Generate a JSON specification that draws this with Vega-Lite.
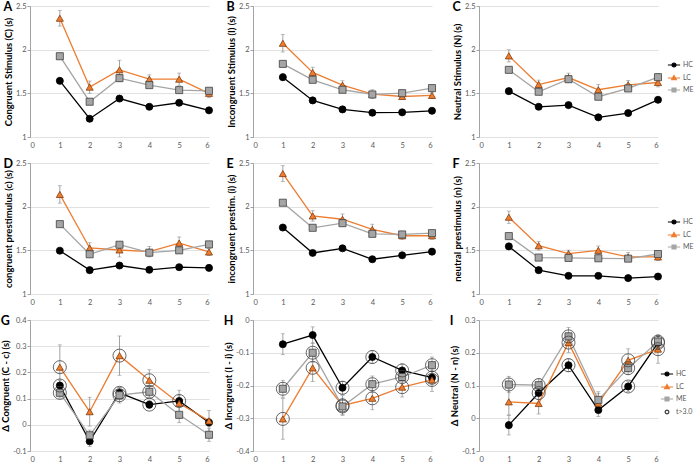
{
  "$schema": "https://vega.github.io/schema/vega-lite/v6.json",
  "background": "white",
  "padding": {"left": 0, "top": 0, "right": 0, "bottom": 0},
  "columns": 3,
  "spacing": {"row": 8, "column": 8},
  "resolve": {"scale": {"x": "independent", "y": "independent", "color": "independent"}, "legend": {"color": "independent"}},
  "config": {
    "view": {"stroke": null},
    "font": "Lato",
    "axis": {"labelFont": "Lato", "labelFontSize": 7.5, "labelColor": "#595959", "titleFont": "Lato", "titleFontSize": 9.5, "titleFontWeight": "bold", "titleColor": "#000000", "domainColor": "#8c8c8c", "tickColor": "#8c8c8c", "gridColor": "#d9d9d9", "gridWidth": 0.8, "domainWidth": 0.8, "tickWidth": 0.8},
    "axisX": {"domain": false, "ticks": false, "grid": false, "labelPadding": 4},
    "axisY": {"tickSize": 3, "labelPadding": 1, "titlePadding": 2},
    "title": {"anchor": "start", "frame": "bounds", "fontSize": 12.5, "fontWeight": "bold", "font": "Lato", "color": "#000000", "offset": -11}
  },
  "datasets": {
    "one": [{"k": 0}],
    "ticks": [{"x": 1}, {"x": 2}, {"x": 3}, {"x": 4}, {"x": 5}, {"x": 6}],
    "d": [
      {"p": "A", "g": "HC", "x": 1, "v": 1.643, "e": 0.02},
      {"p": "A", "g": "HC", "x": 2, "v": 1.209, "e": 0.02},
      {"p": "A", "g": "HC", "x": 3, "v": 1.44, "e": 0.025},
      {"p": "A", "g": "HC", "x": 4, "v": 1.346, "e": 0.02},
      {"p": "A", "g": "HC", "x": 5, "v": 1.392, "e": 0.025},
      {"p": "A", "g": "HC", "x": 6, "v": 1.305, "e": 0.02},
      {"p": "A", "g": "LC", "x": 1, "v": 2.36, "e": 0.09},
      {"p": "A", "g": "LC", "x": 2, "v": 1.571, "e": 0.07},
      {"p": "A", "g": "LC", "x": 3, "v": 1.769, "e": 0.11},
      {"p": "A", "g": "LC", "x": 4, "v": 1.662, "e": 0.05},
      {"p": "A", "g": "LC", "x": 5, "v": 1.662, "e": 0.07},
      {"p": "A", "g": "LC", "x": 6, "v": 1.5, "e": 0.05},
      {"p": "A", "g": "ME", "x": 1, "v": 1.925, "e": 0.03},
      {"p": "A", "g": "ME", "x": 2, "v": 1.404, "e": 0.03},
      {"p": "A", "g": "ME", "x": 3, "v": 1.674, "e": 0.04},
      {"p": "A", "g": "ME", "x": 4, "v": 1.594, "e": 0.03},
      {"p": "A", "g": "ME", "x": 5, "v": 1.537, "e": 0.03},
      {"p": "A", "g": "ME", "x": 6, "v": 1.529, "e": 0.03},
      {"p": "B", "g": "HC", "x": 1, "v": 1.685, "e": 0.04},
      {"p": "B", "g": "HC", "x": 2, "v": 1.419, "e": 0.02},
      {"p": "B", "g": "HC", "x": 3, "v": 1.316, "e": 0.015},
      {"p": "B", "g": "HC", "x": 4, "v": 1.278, "e": 0.015},
      {"p": "B", "g": "HC", "x": 5, "v": 1.282, "e": 0.015},
      {"p": "B", "g": "HC", "x": 6, "v": 1.3, "e": 0.015},
      {"p": "B", "g": "LC", "x": 1, "v": 2.073, "e": 0.1},
      {"p": "B", "g": "LC", "x": 2, "v": 1.739, "e": 0.06},
      {"p": "B", "g": "LC", "x": 3, "v": 1.594, "e": 0.05},
      {"p": "B", "g": "LC", "x": 4, "v": 1.491, "e": 0.05},
      {"p": "B", "g": "LC", "x": 5, "v": 1.464, "e": 0.03},
      {"p": "B", "g": "LC", "x": 6, "v": 1.476, "e": 0.03},
      {"p": "B", "g": "ME", "x": 1, "v": 1.837, "e": 0.03},
      {"p": "B", "g": "ME", "x": 2, "v": 1.655, "e": 0.03},
      {"p": "B", "g": "ME", "x": 3, "v": 1.541, "e": 0.03},
      {"p": "B", "g": "ME", "x": 4, "v": 1.487, "e": 0.03},
      {"p": "B", "g": "ME", "x": 5, "v": 1.502, "e": 0.03},
      {"p": "B", "g": "ME", "x": 6, "v": 1.56, "e": 0.03},
      {"p": "C", "g": "HC", "x": 1, "v": 1.525, "e": 0.025},
      {"p": "C", "g": "HC", "x": 2, "v": 1.346, "e": 0.02},
      {"p": "C", "g": "HC", "x": 3, "v": 1.365, "e": 0.02},
      {"p": "C", "g": "HC", "x": 4, "v": 1.225, "e": 0.02},
      {"p": "C", "g": "HC", "x": 5, "v": 1.274, "e": 0.02},
      {"p": "C", "g": "HC", "x": 6, "v": 1.426, "e": 0.025},
      {"p": "C", "g": "LC", "x": 1, "v": 1.929, "e": 0.07},
      {"p": "C", "g": "LC", "x": 2, "v": 1.601, "e": 0.05},
      {"p": "C", "g": "LC", "x": 3, "v": 1.681, "e": 0.05},
      {"p": "C", "g": "LC", "x": 4, "v": 1.541, "e": 0.06},
      {"p": "C", "g": "LC", "x": 5, "v": 1.598, "e": 0.05},
      {"p": "C", "g": "LC", "x": 6, "v": 1.624, "e": 0.05},
      {"p": "C", "g": "ME", "x": 1, "v": 1.769, "e": 0.03},
      {"p": "C", "g": "ME", "x": 2, "v": 1.518, "e": 0.03},
      {"p": "C", "g": "ME", "x": 3, "v": 1.662, "e": 0.04},
      {"p": "C", "g": "ME", "x": 4, "v": 1.461, "e": 0.03},
      {"p": "C", "g": "ME", "x": 5, "v": 1.556, "e": 0.03},
      {"p": "C", "g": "ME", "x": 6, "v": 1.685, "e": 0.04},
      {"p": "D", "g": "HC", "x": 1, "v": 1.496, "e": 0.02},
      {"p": "D", "g": "HC", "x": 2, "v": 1.273, "e": 0.02},
      {"p": "D", "g": "HC", "x": 3, "v": 1.326, "e": 0.02},
      {"p": "D", "g": "HC", "x": 4, "v": 1.277, "e": 0.02},
      {"p": "D", "g": "HC", "x": 5, "v": 1.307, "e": 0.02},
      {"p": "D", "g": "HC", "x": 6, "v": 1.299, "e": 0.02},
      {"p": "D", "g": "LC", "x": 1, "v": 2.14, "e": 0.1},
      {"p": "D", "g": "LC", "x": 2, "v": 1.527, "e": 0.06},
      {"p": "D", "g": "LC", "x": 3, "v": 1.504, "e": 0.08},
      {"p": "D", "g": "LC", "x": 4, "v": 1.485, "e": 0.06},
      {"p": "D", "g": "LC", "x": 5, "v": 1.583, "e": 0.07},
      {"p": "D", "g": "LC", "x": 6, "v": 1.481, "e": 0.04},
      {"p": "D", "g": "ME", "x": 1, "v": 1.8, "e": 0.03},
      {"p": "D", "g": "ME", "x": 2, "v": 1.455, "e": 0.03},
      {"p": "D", "g": "ME", "x": 3, "v": 1.564, "e": 0.03},
      {"p": "D", "g": "ME", "x": 4, "v": 1.473, "e": 0.03},
      {"p": "D", "g": "ME", "x": 5, "v": 1.5, "e": 0.03},
      {"p": "D", "g": "ME", "x": 6, "v": 1.568, "e": 0.03},
      {"p": "E", "g": "HC", "x": 1, "v": 1.761, "e": 0.03},
      {"p": "E", "g": "HC", "x": 2, "v": 1.47, "e": 0.02},
      {"p": "E", "g": "HC", "x": 3, "v": 1.523, "e": 0.02},
      {"p": "E", "g": "HC", "x": 4, "v": 1.398, "e": 0.02},
      {"p": "E", "g": "HC", "x": 5, "v": 1.443, "e": 0.02},
      {"p": "E", "g": "HC", "x": 6, "v": 1.485, "e": 0.02},
      {"p": "E", "g": "LC", "x": 1, "v": 2.379, "e": 0.09},
      {"p": "E", "g": "LC", "x": 2, "v": 1.894, "e": 0.06},
      {"p": "E", "g": "LC", "x": 3, "v": 1.856, "e": 0.06},
      {"p": "E", "g": "LC", "x": 4, "v": 1.739, "e": 0.06},
      {"p": "E", "g": "LC", "x": 5, "v": 1.667, "e": 0.04},
      {"p": "E", "g": "LC", "x": 6, "v": 1.667, "e": 0.04},
      {"p": "E", "g": "ME", "x": 1, "v": 2.045, "e": 0.03},
      {"p": "E", "g": "ME", "x": 2, "v": 1.758, "e": 0.03},
      {"p": "E", "g": "ME", "x": 3, "v": 1.811, "e": 0.03},
      {"p": "E", "g": "ME", "x": 4, "v": 1.689, "e": 0.03},
      {"p": "E", "g": "ME", "x": 5, "v": 1.682, "e": 0.03},
      {"p": "E", "g": "ME", "x": 6, "v": 1.697, "e": 0.03},
      {"p": "F", "g": "HC", "x": 1, "v": 1.545, "e": 0.03},
      {"p": "F", "g": "HC", "x": 2, "v": 1.273, "e": 0.02},
      {"p": "F", "g": "HC", "x": 3, "v": 1.208, "e": 0.015},
      {"p": "F", "g": "HC", "x": 4, "v": 1.208, "e": 0.015},
      {"p": "F", "g": "HC", "x": 5, "v": 1.182, "e": 0.015},
      {"p": "F", "g": "HC", "x": 6, "v": 1.2, "e": 0.015},
      {"p": "F", "g": "LC", "x": 1, "v": 1.879, "e": 0.07},
      {"p": "F", "g": "LC", "x": 2, "v": 1.553, "e": 0.05},
      {"p": "F", "g": "LC", "x": 3, "v": 1.462, "e": 0.04},
      {"p": "F", "g": "LC", "x": 4, "v": 1.5, "e": 0.05},
      {"p": "F", "g": "LC", "x": 5, "v": 1.424, "e": 0.05},
      {"p": "F", "g": "LC", "x": 6, "v": 1.424, "e": 0.04},
      {"p": "F", "g": "ME", "x": 1, "v": 1.663, "e": 0.03},
      {"p": "F", "g": "ME", "x": 2, "v": 1.417, "e": 0.03},
      {"p": "F", "g": "ME", "x": 3, "v": 1.413, "e": 0.03},
      {"p": "F", "g": "ME", "x": 4, "v": 1.409, "e": 0.03},
      {"p": "F", "g": "ME", "x": 5, "v": 1.405, "e": 0.03},
      {"p": "F", "g": "ME", "x": 6, "v": 1.458, "e": 0.03},
      {"p": "G", "g": "HC", "x": 1, "v": 0.15, "e": 0.02, "s": 1},
      {"p": "G", "g": "HC", "x": 2, "v": -0.063, "e": 0.02, "s": 0},
      {"p": "G", "g": "HC", "x": 3, "v": 0.122, "e": 0.02, "s": 1},
      {"p": "G", "g": "HC", "x": 4, "v": 0.077, "e": 0.015, "s": 1},
      {"p": "G", "g": "HC", "x": 5, "v": 0.091, "e": 0.02, "s": 1},
      {"p": "G", "g": "HC", "x": 6, "v": 0.009, "e": 0.015, "s": 0},
      {"p": "G", "g": "LC", "x": 1, "v": 0.22, "e": 0.085, "s": 1},
      {"p": "G", "g": "LC", "x": 2, "v": 0.05, "e": 0.055, "s": 0},
      {"p": "G", "g": "LC", "x": 3, "v": 0.264, "e": 0.075, "s": 1},
      {"p": "G", "g": "LC", "x": 4, "v": 0.17, "e": 0.04, "s": 1},
      {"p": "G", "g": "LC", "x": 5, "v": 0.082, "e": 0.05, "s": 0},
      {"p": "G", "g": "LC", "x": 6, "v": 0.015, "e": 0.04, "s": 0},
      {"p": "G", "g": "ME", "x": 1, "v": 0.122, "e": 0.02, "s": 1},
      {"p": "G", "g": "ME", "x": 2, "v": -0.04, "e": 0.02, "s": 0},
      {"p": "G", "g": "ME", "x": 3, "v": 0.113, "e": 0.03, "s": 1},
      {"p": "G", "g": "ME", "x": 4, "v": 0.126, "e": 0.02, "s": 1},
      {"p": "G", "g": "ME", "x": 5, "v": 0.038, "e": 0.03, "s": 0},
      {"p": "G", "g": "ME", "x": 6, "v": -0.038, "e": 0.025, "s": 0},
      {"p": "H", "g": "HC", "x": 1, "v": -0.074, "e": 0.032, "s": 0},
      {"p": "H", "g": "HC", "x": 2, "v": -0.046, "e": 0.025, "s": 0},
      {"p": "H", "g": "HC", "x": 3, "v": -0.207, "e": 0.02, "s": 1},
      {"p": "H", "g": "HC", "x": 4, "v": -0.113, "e": 0.02, "s": 1},
      {"p": "H", "g": "HC", "x": 5, "v": -0.154, "e": 0.02, "s": 1},
      {"p": "H", "g": "HC", "x": 6, "v": -0.176, "e": 0.02, "s": 1},
      {"p": "H", "g": "LC", "x": 1, "v": -0.302, "e": 0.062, "s": 1},
      {"p": "H", "g": "LC", "x": 2, "v": -0.146, "e": 0.042, "s": 1},
      {"p": "H", "g": "LC", "x": 3, "v": -0.261, "e": 0.03, "s": 1},
      {"p": "H", "g": "LC", "x": 4, "v": -0.239, "e": 0.035, "s": 1},
      {"p": "H", "g": "LC", "x": 5, "v": -0.205, "e": 0.03, "s": 1},
      {"p": "H", "g": "LC", "x": 6, "v": -0.183, "e": 0.035, "s": 1},
      {"p": "H", "g": "ME", "x": 1, "v": -0.21, "e": 0.026, "s": 1},
      {"p": "H", "g": "ME", "x": 2, "v": -0.1, "e": 0.03, "s": 1},
      {"p": "H", "g": "ME", "x": 3, "v": -0.264, "e": 0.025, "s": 1},
      {"p": "H", "g": "ME", "x": 4, "v": -0.196, "e": 0.025, "s": 1},
      {"p": "H", "g": "ME", "x": 5, "v": -0.174, "e": 0.02, "s": 1},
      {"p": "H", "g": "ME", "x": 6, "v": -0.138, "e": 0.025, "s": 1},
      {"p": "I", "g": "HC", "x": 1, "v": -0.021, "e": 0.03, "s": 0},
      {"p": "I", "g": "HC", "x": 2, "v": 0.077, "e": 0.02, "s": 1},
      {"p": "I", "g": "HC", "x": 3, "v": 0.162, "e": 0.02, "s": 1},
      {"p": "I", "g": "HC", "x": 4, "v": 0.025, "e": 0.02, "s": 0},
      {"p": "I", "g": "HC", "x": 5, "v": 0.097, "e": 0.015, "s": 1},
      {"p": "I", "g": "HC", "x": 6, "v": 0.23, "e": 0.02, "s": 1},
      {"p": "I", "g": "LC", "x": 1, "v": 0.05, "e": 0.04, "s": 0},
      {"p": "I", "g": "LC", "x": 2, "v": 0.045, "e": 0.032, "s": 0},
      {"p": "I", "g": "LC", "x": 3, "v": 0.231, "e": 0.03, "s": 1},
      {"p": "I", "g": "LC", "x": 4, "v": 0.046, "e": 0.03, "s": 0},
      {"p": "I", "g": "LC", "x": 5, "v": 0.177, "e": 0.035, "s": 1},
      {"p": "I", "g": "LC", "x": 6, "v": 0.211, "e": 0.043, "s": 1},
      {"p": "I", "g": "ME", "x": 1, "v": 0.103, "e": 0.025, "s": 1},
      {"p": "I", "g": "ME", "x": 2, "v": 0.101, "e": 0.02, "s": 1},
      {"p": "I", "g": "ME", "x": 3, "v": 0.25, "e": 0.027, "s": 1},
      {"p": "I", "g": "ME", "x": 4, "v": 0.056, "e": 0.025, "s": 0},
      {"p": "I", "g": "ME", "x": 5, "v": 0.153, "e": 0.02, "s": 1},
      {"p": "I", "g": "ME", "x": 6, "v": 0.234, "e": 0.02, "s": 1}
    ]
  },
  "concat": [
    {
      "title": "A", "width": 179, "height": 131,
      "data": {"name": "d"},
      "transform": [{"filter": "datum.p == 'A'"}],
      "encoding": {
        "x": {"field": "x", "type": "quantitative", "scale": {"domain": [0, 6], "nice": false}, "axis": {"values": [0, 1, 2, 3, 4, 5, 6], "title": null}},
        "y": {"field": "v", "type": "quantitative", "scale": {"domain": [1, 2.5], "nice": false, "zero": false}, "axis": {"values": [1, 1.5, 2, 2.5], "labelExpr": "'' + datum.value", "title": "Congruent Stimulus (C) (s)"}},
        "color": {"field": "g", "type": "nominal", "scale": {"domain": ["HC", "LC", "ME"], "range": ["#000000", "#ed7d31", "#a5a5a5"]}, "legend": null}
      },
      "layer": [
        {"data": {"name": "one"}, "mark": {"type": "rule", "strokeWidth": 0.8}, "encoding": {"x": {"datum": 0}, "x2": {"datum": 6}, "y": {"datum": 1}, "color": {"value": "#8c8c8c"}}},
        {"data": {"name": "ticks"}, "mark": {"type": "tick", "orient": "vertical", "size": 6, "thickness": 0.8}, "encoding": {"y": {"datum": 1}, "color": {"value": "#8c8c8c"}}},
        {"mark": {"type": "errorbar", "ticks": true, "size": 4, "thickness": 0.8}, "encoding": {"yError": {"field": "e"}, "color": {"value": "#8c8c8c"}}},
        {"mark": {"type": "line", "strokeWidth": 1.3}},
        {"mark": {"type": "point", "filled": true, "size": 50, "strokeWidth": 0.8, "opacity": 1}, "encoding": {
          "shape": {"field": "g", "type": "nominal", "scale": {"domain": ["HC", "LC", "ME"], "range": ["circle", "triangle-up", "square"]}, "legend": null},
          "fill": {"field": "g", "type": "nominal", "scale": {"domain": ["HC", "LC", "ME"], "range": ["#000000", "#ed7d31", "#a5a5a5"]}, "legend": null},
          "stroke": {"field": "g", "type": "nominal", "scale": {"domain": ["HC", "LC", "ME"], "range": ["#000000", "#843c0c", "#404040"]}, "legend": null}}}
      ]
    },
    {
      "title": "B", "width": 179, "height": 131,
      "data": {"name": "d"},
      "transform": [{"filter": "datum.p == 'B'"}],
      "encoding": {
        "x": {"field": "x", "type": "quantitative", "scale": {"domain": [0, 6], "nice": false}, "axis": {"values": [0, 1, 2, 3, 4, 5, 6], "title": null}},
        "y": {"field": "v", "type": "quantitative", "scale": {"domain": [1, 2.5], "nice": false, "zero": false}, "axis": {"values": [1, 1.5, 2, 2.5], "labelExpr": "'' + datum.value", "title": "Incongruent Stimulus (I) (s)"}},
        "color": {"field": "g", "type": "nominal", "scale": {"domain": ["HC", "LC", "ME"], "range": ["#000000", "#ed7d31", "#a5a5a5"]}, "legend": null}
      },
      "layer": [
        {"data": {"name": "one"}, "mark": {"type": "rule", "strokeWidth": 0.8}, "encoding": {"x": {"datum": 0}, "x2": {"datum": 6}, "y": {"datum": 1}, "color": {"value": "#8c8c8c"}}},
        {"data": {"name": "ticks"}, "mark": {"type": "tick", "orient": "vertical", "size": 6, "thickness": 0.8}, "encoding": {"y": {"datum": 1}, "color": {"value": "#8c8c8c"}}},
        {"mark": {"type": "errorbar", "ticks": true, "size": 4, "thickness": 0.8}, "encoding": {"yError": {"field": "e"}, "color": {"value": "#8c8c8c"}}},
        {"mark": {"type": "line", "strokeWidth": 1.3}},
        {"mark": {"type": "point", "filled": true, "size": 50, "strokeWidth": 0.8, "opacity": 1}, "encoding": {
          "shape": {"field": "g", "type": "nominal", "scale": {"domain": ["HC", "LC", "ME"], "range": ["circle", "triangle-up", "square"]}, "legend": null},
          "fill": {"field": "g", "type": "nominal", "scale": {"domain": ["HC", "LC", "ME"], "range": ["#000000", "#ed7d31", "#a5a5a5"]}, "legend": null},
          "stroke": {"field": "g", "type": "nominal", "scale": {"domain": ["HC", "LC", "ME"], "range": ["#000000", "#843c0c", "#404040"]}, "legend": null}}}
      ]
    },
    {
      "title": "C", "width": 179, "height": 131,
      "data": {"name": "d"},
      "transform": [{"filter": "datum.p == 'C'"}],
      "encoding": {
        "x": {"field": "x", "type": "quantitative", "scale": {"domain": [0, 6], "nice": false}, "axis": {"values": [0, 1, 2, 3, 4, 5, 6], "title": null}},
        "y": {"field": "v", "type": "quantitative", "scale": {"domain": [1, 2.5], "nice": false, "zero": false}, "axis": {"values": [1, 1.5, 2, 2.5], "labelExpr": "'' + datum.value", "title": "Neutral Stimulus (N) (s)"}},
        "color": {"field": "g", "type": "nominal", "scale": {"domain": ["HC", "LC", "ME"], "range": ["#000000", "#ed7d31", "#a5a5a5"]},
          "legend": {"title": null, "orient": "none", "legendX": 188, "legendY": 52, "symbolSize": 150, "labelFont": "Lato", "labelFontSize": 7, "labelColor": "#595959", "rowPadding": 1, "labelOffset": 2, "padding": 0,
            "encode": {"symbols": {"update": {
              "shape": {"signal": "datum.value == 'HC' ? 'M-1,0H1M0.33,0A0.33,0.33,0,1,1,-0.33,0A0.33,0.33,0,1,1,0.33,0Z' : datum.value == 'LC' ? 'M-1,0H1M0,-0.4L0.38,0.26L-0.38,0.26Z' : datum.value == 'ME' ? 'M-1,0H1M-0.32,-0.32H0.32V0.32H-0.32Z' : 'M0.3,0A0.3,0.3,0,1,1,-0.3,0A0.3,0.3,0,1,1,0.3,0Z'"},
              "fill": {"signal": "datum.value == 'HC' ? '#000000' : datum.value == 'LC' ? '#ed7d31' : datum.value == 'ME' ? '#a5a5a5' : 'transparent'"},
              "stroke": {"signal": "datum.value == 'HC' ? '#000000' : datum.value == 'LC' ? '#ed7d31' : datum.value == 'ME' ? '#a5a5a5' : '#404040'"},
              "strokeWidth": {"value": 1.2}}}}}}
      },
      "layer": [
        {"data": {"name": "one"}, "mark": {"type": "rule", "strokeWidth": 0.8}, "encoding": {"x": {"datum": 0}, "x2": {"datum": 6}, "y": {"datum": 1}, "color": {"value": "#8c8c8c"}}},
        {"data": {"name": "ticks"}, "mark": {"type": "tick", "orient": "vertical", "size": 6, "thickness": 0.8}, "encoding": {"y": {"datum": 1}, "color": {"value": "#8c8c8c"}}},
        {"mark": {"type": "errorbar", "ticks": true, "size": 4, "thickness": 0.8}, "encoding": {"yError": {"field": "e"}, "color": {"value": "#8c8c8c"}}},
        {"mark": {"type": "line", "strokeWidth": 1.3}},
        {"mark": {"type": "point", "filled": true, "size": 50, "strokeWidth": 0.8, "opacity": 1}, "encoding": {
          "shape": {"field": "g", "type": "nominal", "scale": {"domain": ["HC", "LC", "ME"], "range": ["circle", "triangle-up", "square"]}, "legend": null},
          "fill": {"field": "g", "type": "nominal", "scale": {"domain": ["HC", "LC", "ME"], "range": ["#000000", "#ed7d31", "#a5a5a5"]}, "legend": null},
          "stroke": {"field": "g", "type": "nominal", "scale": {"domain": ["HC", "LC", "ME"], "range": ["#000000", "#843c0c", "#404040"]}, "legend": null}}}
      ]
    },
    {
      "title": "D", "width": 179, "height": 131,
      "data": {"name": "d"},
      "transform": [{"filter": "datum.p == 'D'"}],
      "encoding": {
        "x": {"field": "x", "type": "quantitative", "scale": {"domain": [0, 6], "nice": false}, "axis": {"values": [0, 1, 2, 3, 4, 5, 6], "title": null}},
        "y": {"field": "v", "type": "quantitative", "scale": {"domain": [1, 2.5], "nice": false, "zero": false}, "axis": {"values": [1, 1.5, 2, 2.5], "labelExpr": "'' + datum.value", "title": "congruent prestimulus (c) (s)"}},
        "color": {"field": "g", "type": "nominal", "scale": {"domain": ["HC", "LC", "ME"], "range": ["#000000", "#ed7d31", "#a5a5a5"]}, "legend": null}
      },
      "layer": [
        {"data": {"name": "one"}, "mark": {"type": "rule", "strokeWidth": 0.8}, "encoding": {"x": {"datum": 0}, "x2": {"datum": 6}, "y": {"datum": 1}, "color": {"value": "#8c8c8c"}}},
        {"data": {"name": "ticks"}, "mark": {"type": "tick", "orient": "vertical", "size": 6, "thickness": 0.8}, "encoding": {"y": {"datum": 1}, "color": {"value": "#8c8c8c"}}},
        {"mark": {"type": "errorbar", "ticks": true, "size": 4, "thickness": 0.8}, "encoding": {"yError": {"field": "e"}, "color": {"value": "#8c8c8c"}}},
        {"mark": {"type": "line", "strokeWidth": 1.3}},
        {"mark": {"type": "point", "filled": true, "size": 50, "strokeWidth": 0.8, "opacity": 1}, "encoding": {
          "shape": {"field": "g", "type": "nominal", "scale": {"domain": ["HC", "LC", "ME"], "range": ["circle", "triangle-up", "square"]}, "legend": null},
          "fill": {"field": "g", "type": "nominal", "scale": {"domain": ["HC", "LC", "ME"], "range": ["#000000", "#ed7d31", "#a5a5a5"]}, "legend": null},
          "stroke": {"field": "g", "type": "nominal", "scale": {"domain": ["HC", "LC", "ME"], "range": ["#000000", "#843c0c", "#404040"]}, "legend": null}}}
      ]
    },
    {
      "title": "E", "width": 179, "height": 131,
      "data": {"name": "d"},
      "transform": [{"filter": "datum.p == 'E'"}],
      "encoding": {
        "x": {"field": "x", "type": "quantitative", "scale": {"domain": [0, 6], "nice": false}, "axis": {"values": [0, 1, 2, 3, 4, 5, 6], "title": null}},
        "y": {"field": "v", "type": "quantitative", "scale": {"domain": [1, 2.5], "nice": false, "zero": false}, "axis": {"values": [1, 1.5, 2, 2.5], "labelExpr": "'' + datum.value", "title": "incongruent prestim. (i) (s)"}},
        "color": {"field": "g", "type": "nominal", "scale": {"domain": ["HC", "LC", "ME"], "range": ["#000000", "#ed7d31", "#a5a5a5"]}, "legend": null}
      },
      "layer": [
        {"data": {"name": "one"}, "mark": {"type": "rule", "strokeWidth": 0.8}, "encoding": {"x": {"datum": 0}, "x2": {"datum": 6}, "y": {"datum": 1}, "color": {"value": "#8c8c8c"}}},
        {"data": {"name": "ticks"}, "mark": {"type": "tick", "orient": "vertical", "size": 6, "thickness": 0.8}, "encoding": {"y": {"datum": 1}, "color": {"value": "#8c8c8c"}}},
        {"mark": {"type": "errorbar", "ticks": true, "size": 4, "thickness": 0.8}, "encoding": {"yError": {"field": "e"}, "color": {"value": "#8c8c8c"}}},
        {"mark": {"type": "line", "strokeWidth": 1.3}},
        {"mark": {"type": "point", "filled": true, "size": 50, "strokeWidth": 0.8, "opacity": 1}, "encoding": {
          "shape": {"field": "g", "type": "nominal", "scale": {"domain": ["HC", "LC", "ME"], "range": ["circle", "triangle-up", "square"]}, "legend": null},
          "fill": {"field": "g", "type": "nominal", "scale": {"domain": ["HC", "LC", "ME"], "range": ["#000000", "#ed7d31", "#a5a5a5"]}, "legend": null},
          "stroke": {"field": "g", "type": "nominal", "scale": {"domain": ["HC", "LC", "ME"], "range": ["#000000", "#843c0c", "#404040"]}, "legend": null}}}
      ]
    },
    {
      "title": "F", "width": 179, "height": 131,
      "data": {"name": "d"},
      "transform": [{"filter": "datum.p == 'F'"}],
      "encoding": {
        "x": {"field": "x", "type": "quantitative", "scale": {"domain": [0, 6], "nice": false}, "axis": {"values": [0, 1, 2, 3, 4, 5, 6], "title": null}},
        "y": {"field": "v", "type": "quantitative", "scale": {"domain": [1, 2.5], "nice": false, "zero": false}, "axis": {"values": [1, 1.5, 2, 2.5], "labelExpr": "'' + datum.value", "title": "neutral prestimulus (n) (s)"}},
        "color": {"field": "g", "type": "nominal", "scale": {"domain": ["HC", "LC", "ME"], "range": ["#000000", "#ed7d31", "#a5a5a5"]},
          "legend": {"title": null, "orient": "none", "legendX": 188, "legendY": 52, "symbolSize": 150, "labelFont": "Lato", "labelFontSize": 7, "labelColor": "#595959", "rowPadding": 1, "labelOffset": 2, "padding": 0,
            "encode": {"symbols": {"update": {
              "shape": {"signal": "datum.value == 'HC' ? 'M-1,0H1M0.33,0A0.33,0.33,0,1,1,-0.33,0A0.33,0.33,0,1,1,0.33,0Z' : datum.value == 'LC' ? 'M-1,0H1M0,-0.4L0.38,0.26L-0.38,0.26Z' : datum.value == 'ME' ? 'M-1,0H1M-0.32,-0.32H0.32V0.32H-0.32Z' : 'M0.3,0A0.3,0.3,0,1,1,-0.3,0A0.3,0.3,0,1,1,0.3,0Z'"},
              "fill": {"signal": "datum.value == 'HC' ? '#000000' : datum.value == 'LC' ? '#ed7d31' : datum.value == 'ME' ? '#a5a5a5' : 'transparent'"},
              "stroke": {"signal": "datum.value == 'HC' ? '#000000' : datum.value == 'LC' ? '#ed7d31' : datum.value == 'ME' ? '#a5a5a5' : '#404040'"},
              "strokeWidth": {"value": 1.2}}}}}}
      },
      "layer": [
        {"data": {"name": "one"}, "mark": {"type": "rule", "strokeWidth": 0.8}, "encoding": {"x": {"datum": 0}, "x2": {"datum": 6}, "y": {"datum": 1}, "color": {"value": "#8c8c8c"}}},
        {"data": {"name": "ticks"}, "mark": {"type": "tick", "orient": "vertical", "size": 6, "thickness": 0.8}, "encoding": {"y": {"datum": 1}, "color": {"value": "#8c8c8c"}}},
        {"mark": {"type": "errorbar", "ticks": true, "size": 4, "thickness": 0.8}, "encoding": {"yError": {"field": "e"}, "color": {"value": "#8c8c8c"}}},
        {"mark": {"type": "line", "strokeWidth": 1.3}},
        {"mark": {"type": "point", "filled": true, "size": 50, "strokeWidth": 0.8, "opacity": 1}, "encoding": {
          "shape": {"field": "g", "type": "nominal", "scale": {"domain": ["HC", "LC", "ME"], "range": ["circle", "triangle-up", "square"]}, "legend": null},
          "fill": {"field": "g", "type": "nominal", "scale": {"domain": ["HC", "LC", "ME"], "range": ["#000000", "#ed7d31", "#a5a5a5"]}, "legend": null},
          "stroke": {"field": "g", "type": "nominal", "scale": {"domain": ["HC", "LC", "ME"], "range": ["#000000", "#843c0c", "#404040"]}, "legend": null}}}
      ]
    },
    {
      "title": "G", "width": 179, "height": 131,
      "data": {"name": "d"},
      "transform": [{"filter": "datum.p == 'G'"}],
      "encoding": {
        "x": {"field": "x", "type": "quantitative", "scale": {"domain": [0, 6], "nice": false}, "axis": {"values": [0, 1, 2, 3, 4, 5, 6], "title": null}},
        "y": {"field": "v", "type": "quantitative", "scale": {"domain": [-0.1, 0.4], "nice": false, "zero": false}, "axis": {"values": [-0.1, 0, 0.1, 0.2, 0.3, 0.4], "labelExpr": "'' + datum.value", "title": "Δ Congruent (C - c) (s)"}},
        "color": {"field": "g", "type": "nominal", "scale": {"domain": ["HC", "LC", "ME"], "range": ["#000000", "#ed7d31", "#a5a5a5"]}, "legend": null}
      },
      "layer": [
        {"data": {"name": "one"}, "mark": {"type": "rule", "strokeWidth": 0.8}, "encoding": {"x": {"datum": 0}, "x2": {"datum": 6}, "y": {"datum": 0}, "color": {"value": "#8c8c8c"}}},
        {"data": {"name": "ticks"}, "mark": {"type": "tick", "orient": "vertical", "size": 6, "thickness": 0.8}, "encoding": {"y": {"datum": 0}, "color": {"value": "#8c8c8c"}}},
        {"mark": {"type": "errorbar", "ticks": true, "size": 4, "thickness": 0.8}, "encoding": {"yError": {"field": "e"}, "color": {"value": "#8c8c8c"}}},
        {"mark": {"type": "line", "strokeWidth": 1.3}},
        {"mark": {"type": "point", "filled": true, "size": 50, "strokeWidth": 0.8, "opacity": 1}, "encoding": {
          "shape": {"field": "g", "type": "nominal", "scale": {"domain": ["HC", "LC", "ME"], "range": ["circle", "triangle-up", "square"]}, "legend": null},
          "fill": {"field": "g", "type": "nominal", "scale": {"domain": ["HC", "LC", "ME"], "range": ["#000000", "#ed7d31", "#a5a5a5"]}, "legend": null},
          "stroke": {"field": "g", "type": "nominal", "scale": {"domain": ["HC", "LC", "ME"], "range": ["#000000", "#843c0c", "#404040"]}, "legend": null}}},
        {"transform": [{"filter": "datum.s == 1"}], "mark": {"type": "point", "shape": "circle", "size": 170, "filled": false, "strokeWidth": 0.8, "opacity": 1}, "encoding": {"color": {"value": "#404040"}}}
      ]
    },
    {
      "title": "H", "width": 179, "height": 131,
      "data": {"name": "d"},
      "transform": [{"filter": "datum.p == 'H'"}],
      "encoding": {
        "x": {"field": "x", "type": "quantitative", "scale": {"domain": [0, 6], "nice": false}, "axis": {"values": [0, 1, 2, 3, 4, 5, 6], "title": null}},
        "y": {"field": "v", "type": "quantitative", "scale": {"domain": [-0.4, 0], "nice": false, "zero": false}, "axis": {"values": [-0.4, -0.3, -0.2, -0.1, 0], "labelExpr": "'' + datum.value", "title": "Δ Incngruent (I - i) (s)"}},
        "color": {"field": "g", "type": "nominal", "scale": {"domain": ["HC", "LC", "ME"], "range": ["#000000", "#ed7d31", "#a5a5a5"]}, "legend": null}
      },
      "layer": [
        {"data": {"name": "one"}, "mark": {"type": "rule", "strokeWidth": 0.8}, "encoding": {"x": {"datum": 0}, "x2": {"datum": 6}, "y": {"datum": 0}, "color": {"value": "#8c8c8c"}}},
        {"data": {"name": "ticks"}, "mark": {"type": "tick", "orient": "vertical", "size": 6, "thickness": 0.8}, "encoding": {"y": {"datum": 0}, "color": {"value": "#8c8c8c"}}},
        {"mark": {"type": "errorbar", "ticks": true, "size": 4, "thickness": 0.8}, "encoding": {"yError": {"field": "e"}, "color": {"value": "#8c8c8c"}}},
        {"mark": {"type": "line", "strokeWidth": 1.3}},
        {"mark": {"type": "point", "filled": true, "size": 50, "strokeWidth": 0.8, "opacity": 1}, "encoding": {
          "shape": {"field": "g", "type": "nominal", "scale": {"domain": ["HC", "LC", "ME"], "range": ["circle", "triangle-up", "square"]}, "legend": null},
          "fill": {"field": "g", "type": "nominal", "scale": {"domain": ["HC", "LC", "ME"], "range": ["#000000", "#ed7d31", "#a5a5a5"]}, "legend": null},
          "stroke": {"field": "g", "type": "nominal", "scale": {"domain": ["HC", "LC", "ME"], "range": ["#000000", "#843c0c", "#404040"]}, "legend": null}}},
        {"transform": [{"filter": "datum.s == 1"}], "mark": {"type": "point", "shape": "circle", "size": 170, "filled": false, "strokeWidth": 0.8, "opacity": 1}, "encoding": {"color": {"value": "#404040"}}}
      ]
    },
    {
      "title": "I", "width": 179, "height": 131,
      "data": {"name": "d"},
      "transform": [{"filter": "datum.p == 'I'"}],
      "encoding": {
        "x": {"field": "x", "type": "quantitative", "scale": {"domain": [0, 6], "nice": false}, "axis": {"values": [0, 1, 2, 3, 4, 5, 6], "title": null}},
        "y": {"field": "v", "type": "quantitative", "scale": {"domain": [-0.1, 0.3], "nice": false, "zero": false}, "axis": {"values": [-0.1, 0, 0.1, 0.2, 0.3], "labelExpr": "'' + datum.value", "title": "Δ Neutral (N - n) (s)"}},
        "color": {"field": "g", "type": "nominal", "scale": {"domain": ["HC", "LC", "ME", "t>3.0"], "range": ["#000000", "#ed7d31", "#a5a5a5", "#404040"]},
          "legend": {"title": null, "orient": "none", "legendX": 181, "legendY": 47, "symbolSize": 150, "labelFont": "Lato", "labelFontSize": 7, "labelColor": "#595959", "rowPadding": 1, "labelOffset": 2, "padding": 0,
            "encode": {"symbols": {"update": {
              "shape": {"signal": "datum.value == 'HC' ? 'M-1,0H1M0.33,0A0.33,0.33,0,1,1,-0.33,0A0.33,0.33,0,1,1,0.33,0Z' : datum.value == 'LC' ? 'M-1,0H1M0,-0.4L0.38,0.26L-0.38,0.26Z' : datum.value == 'ME' ? 'M-1,0H1M-0.32,-0.32H0.32V0.32H-0.32Z' : 'M0.3,0A0.3,0.3,0,1,1,-0.3,0A0.3,0.3,0,1,1,0.3,0Z'"},
              "fill": {"signal": "datum.value == 'HC' ? '#000000' : datum.value == 'LC' ? '#ed7d31' : datum.value == 'ME' ? '#a5a5a5' : 'transparent'"},
              "stroke": {"signal": "datum.value == 'HC' ? '#000000' : datum.value == 'LC' ? '#ed7d31' : datum.value == 'ME' ? '#a5a5a5' : '#404040'"},
              "strokeWidth": {"value": 1.2}}}}}}
      },
      "layer": [
        {"data": {"name": "one"}, "mark": {"type": "rule", "strokeWidth": 0.8}, "encoding": {"x": {"datum": 0}, "x2": {"datum": 6}, "y": {"datum": 0}, "color": {"value": "#8c8c8c"}}},
        {"data": {"name": "ticks"}, "mark": {"type": "tick", "orient": "vertical", "size": 6, "thickness": 0.8}, "encoding": {"y": {"datum": 0}, "color": {"value": "#8c8c8c"}}},
        {"mark": {"type": "errorbar", "ticks": true, "size": 4, "thickness": 0.8}, "encoding": {"yError": {"field": "e"}, "color": {"value": "#8c8c8c"}}},
        {"mark": {"type": "line", "strokeWidth": 1.3}},
        {"mark": {"type": "point", "filled": true, "size": 50, "strokeWidth": 0.8, "opacity": 1}, "encoding": {
          "shape": {"field": "g", "type": "nominal", "scale": {"domain": ["HC", "LC", "ME"], "range": ["circle", "triangle-up", "square"]}, "legend": null},
          "fill": {"field": "g", "type": "nominal", "scale": {"domain": ["HC", "LC", "ME"], "range": ["#000000", "#ed7d31", "#a5a5a5"]}, "legend": null},
          "stroke": {"field": "g", "type": "nominal", "scale": {"domain": ["HC", "LC", "ME"], "range": ["#000000", "#843c0c", "#404040"]}, "legend": null}}},
        {"transform": [{"filter": "datum.s == 1"}], "mark": {"type": "point", "shape": "circle", "size": 170, "filled": false, "strokeWidth": 0.8, "opacity": 1}, "encoding": {"color": {"value": "#404040"}}}
      ]
    }
  ]
}
